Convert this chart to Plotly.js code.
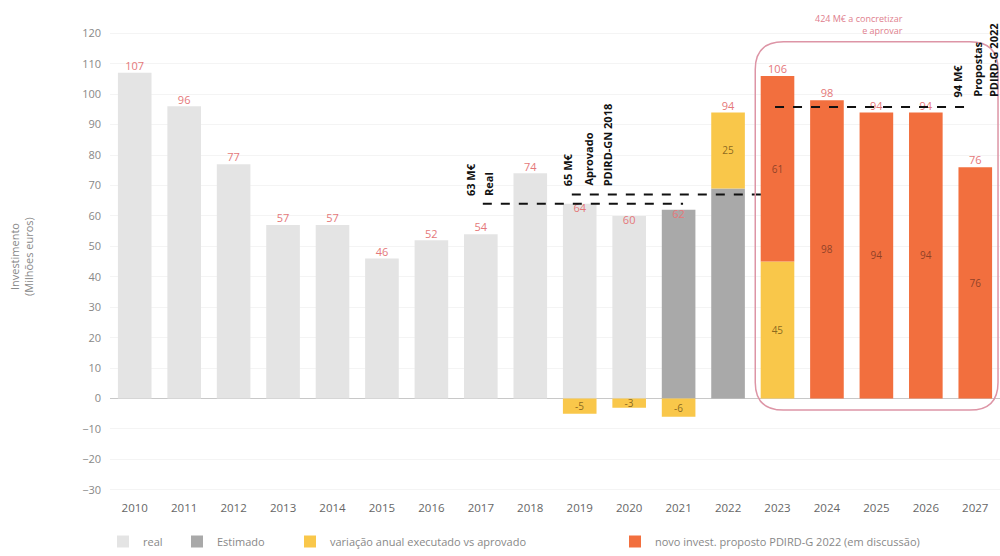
<!DOCTYPE html>
<html><head><meta charset="utf-8">
<script src="https://cdn.plot.ly/plotly-3.0.1.min.js"></script>
<style>html,body{margin:0;padding:0;background:#fff}#chart{width:1000px;height:556px}</style>
</head><body><div id="chart"></div>
<script>
const years = [2010,2011,2012,2013,2014,2015,2016,2017,2018,2019,2020,2021,2022,2023,2024,2025,2026,2027];
const realYears = [2010,2011,2012,2013,2014,2015,2016,2017,2018,2019,2020];
const realVals = [107,96,77,57,57,46,52,54,74,64,60];
const estYears = [2021,2022];
const estVals = [62,69];
const varYears = [2019,2020,2021,2022,2023];
const varVals = [-5,-3,-6,25,45];
const novoYears = [2023,2024,2025,2026,2027];
const novoVals = [61,98,94,94,76];
const totals = [107,96,77,57,57,46,52,54,74,64,60,62,94,106,98,94,94,76];
const totalPos = ['top center','top center','top center','top center','top center','top center','top center','top center','top center','bottom center','bottom center','bottom center','top center','top center','top center','top center','top center','top center'];
const yTicks = [-30,-20,-10,0,10,20,30,40,50,60,70,80,90,100,110,120];
const legendNames = ['real','Estimado','variação anual executado vs aprovado','novo invest. proposto PDIRD-G 2022 (em discussão)'];
// reference lines: [x0, x1, y]
const refLines = [[2017.04,2021.09,64],[2018.84,2022.75,67],[2022.95,2026.9,95.8]];
const vLabels = [
  ['63 M€',2016.78,66],['Real',2017.15,66],
  ['65 M€',2018.76,69.2],['Aprovado',2019.17,69.2],['PDIRD-GN 2018',2019.55,69.2],
  ['94 M€',2026.65,98.4],['Propostas',2027.04,98.4],['PDIRD-G 2022',2027.36,98.4]
];

const FONT = '"Open Sans", sans-serif';
const inFontOr = {family: FONT, size: 10, color: 'rgba(110,50,30,0.75)'};
const inFontYe = {family: FONT, size: 10, color: 'rgba(110,80,20,0.8)'};

const traces = [
  {type:'bar', x: realYears, y: realVals, name: legendNames[0], marker:{color:'#e4e4e4'}, legend:'legend', hoverinfo:'skip'},
  {type:'bar', x: estYears, y: estVals, name: legendNames[1], marker:{color:'#a9a9a9'}, legend:'legend2', hoverinfo:'skip'},
  {type:'bar', x: varYears, y: varVals, name: legendNames[2], marker:{color:'#f9c74a'}, legend:'legend3',
   text: varVals.map(String), textposition:'inside', insidetextanchor:'middle', textangle:0, constraintext:'none', textfont: inFontYe, hoverinfo:'skip'},
  {type:'bar', x: novoYears, y: novoVals, name: legendNames[3], marker:{color:'#f26f3e'}, legend:'legend4',
   text: novoVals.map(String), textposition:'inside', insidetextanchor:'middle', textangle:0, constraintext:'none', textfont: inFontOr, hoverinfo:'skip'},
  {type:'scatter', mode:'text', x: years, y: totals, text: totals.map(String), textposition: totalPos,
   textfont:{family: FONT, size: 11, color:'#e5787a'}, showlegend:false, hoverinfo:'skip', cliponaxis:false}
];

const shapes = refLines.map(l => ({type:'line', xref:'x', yref:'y', x0:l[0], x1:l[1], y0:l[2], y1:l[2],
  line:{color:'#111', width:2, dash:'dash'}}));
// rounded box
(function(){
  const x0=2022.55, x1=2027.46, y0=-3.8, y1=117.2, rx=0.57, ry=9.1;
  const p = `M ${x0+rx},${y1} L ${x1-rx},${y1} Q ${x1},${y1} ${x1},${y1-ry} L ${x1},${y0+ry} Q ${x1},${y0} ${x1-rx},${y0} L ${x0+rx},${y0} Q ${x0},${y0} ${x0},${y0+ry} L ${x0},${y1-ry} Q ${x0},${y1} ${x0+rx},${y1} Z`;
  shapes.push({type:'path', xref:'x', yref:'y', path:p, line:{color:'#dd95a6', width:1.5}, fillcolor:'rgba(0,0,0,0)'});
})();

const annotations = vLabels.map(v => ({text: v[0], x: v[1], y: v[2], xref:'x', yref:'y', textangle:-90,
  xanchor:'center', yanchor:'bottom', showarrow:false, font:{family: FONT, size: 11, color:'#111', weight:'bold'}}));
annotations.push({text:'424 M€ a concretizar<br>e aprovar', x: 2025.58, y: 0.98, xref:'x', yref:'paper',
  xanchor:'right', yanchor:'middle', align:'right', showarrow:false, font:{family: FONT, size: 9, color:'#e0808e'}});
annotations.push({text:'Investimento<br>(Milhões euros)', x:-0.1, y:0.5, xref:'paper', yref:'paper', textangle:-90,
  xanchor:'center', yanchor:'middle', showarrow:false, font:{family: FONT, size: 11, color:'#888'}});

const legBase = {orientation:'h', yanchor:'middle', y:-0.088, xanchor:'left', bgcolor:'rgba(0,0,0,0)',
  font:{family: FONT, size: 11, color:'#888'}, itemwidth:30};
const px2paper = p => (p-110)/890;

const layout = {
  width:1000, height:556, margin:{l:110, r:0, t:15, b:51},
  paper_bgcolor:'#fff', plot_bgcolor:'#fff',
  barmode:'relative', bargap:0.32,
  font:{family: FONT},
  xaxis:{range:[2009.5,2027.5], tickvals: years, ticktext: years.map(String), showgrid:false, zeroline:false,
    tickfont:{family: FONT, size:11.5, color:'#666'}, showline:false, ticks:''},
  yaxis:{range:[-33,126], tickvals: yTicks, showgrid:true, gridcolor:'#f4f4f4', zeroline:true, zerolinecolor:'#c8c8c8', zerolinewidth:1,
    tickfont:{family: FONT, size:11, color:'#888'}, ticklabelstandoff:8},
  shapes, annotations,
  legend: Object.assign({}, legBase, {x: px2paper(103)}),
  legend2: Object.assign({}, legBase, {x: px2paper(177)}),
  legend3: Object.assign({}, legBase, {x: px2paper(290)}),
  legend4: Object.assign({}, legBase, {x: px2paper(615)}),
  showlegend:true
};
Plotly.newPlot('chart', traces, layout, {staticPlot:true, displayModeBar:false});
</script></body></html>
